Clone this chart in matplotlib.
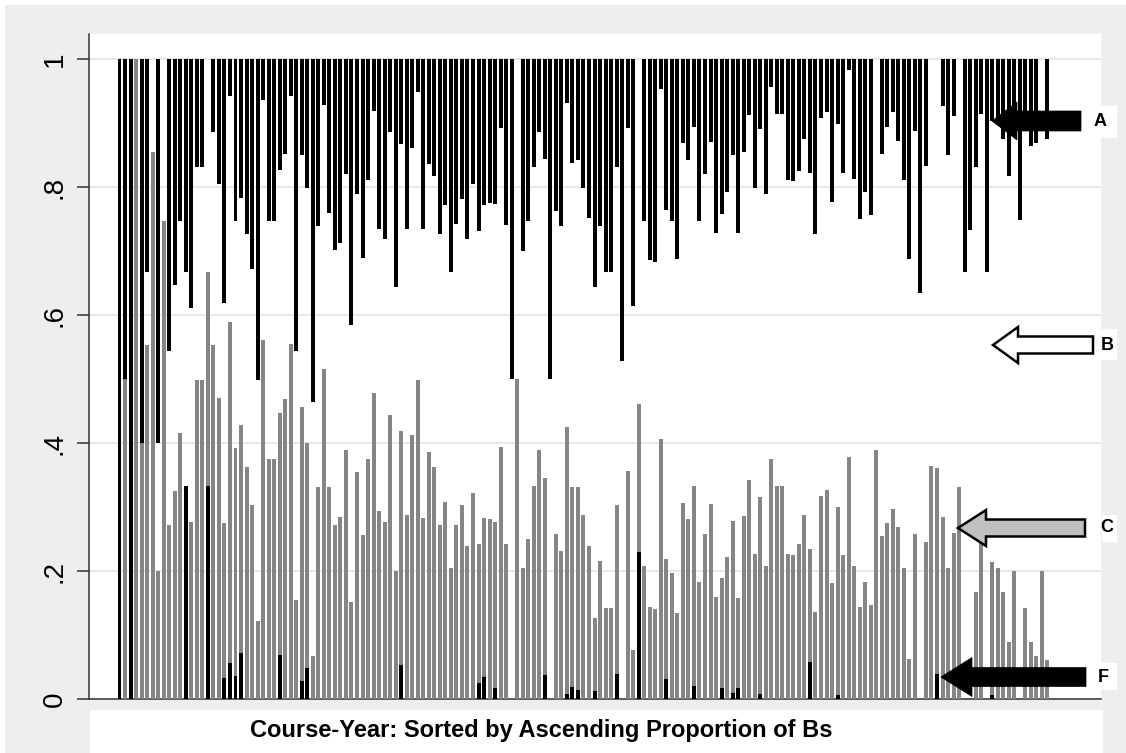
import matplotlib
matplotlib.use("Agg")
import matplotlib.pyplot as plt
from matplotlib.patches import Rectangle, Polygon

plt.rcParams['font.family'] = ['Liberation Sans', 'DejaVu Sans']

# Per course-year (sorted by ascending proportion of Bs), boundaries:
# top of the black F segment, top of the grey (C) segment, bottom of the black A segment
f_top = [0, 0, 0, 0, 0, 0, 0, 0, 0, 0, 0, 0, .333, 0, 0, 0, .333, 0, 0, .033,
         .057, .037, .072, 0, 0, 0, 0, 0, 0, .069, 0, 0, 0, .029, .049, 0, 0, 0, 0, 0,
         0, 0, 0, 0, 0, 0, 0, 0, 0, 0, 0, .053, 0, 0, 0, 0, 0, 0, 0, 0,
         0, 0, 0, 0, 0, .025, .035, 0, .017, 0, 0, 0, 0, 0, 0, 0, 0, .038, 0, 0,
         0, .008, .019, .015, 0, 0, .013, 0, 0, 0, .04, 0, 0, 0, .23, 0, 0, 0, 0, .031,
         0, 0, 0, 0, .021, 0, 0, 0, 0, .017, 0, .01, .017, 0, 0, 0, .008, 0, 0, 0,
         0, 0, 0, 0, 0, .059, 0, 0, 0, 0, .007, 0, 0, 0, 0, 0, 0, 0, 0, 0,
         0, 0, 0, 0, 0, 0, 0, 0, .04, 0, 0, 0, 0, 0, 0, 0, 0, 0, .006, 0,
         0, 0, 0, 0, 0, 0, 0, 0, 0]
c_top = [0, .5, 0, 1, .4, .553, .855, .2, .747, .272, .325, .416, .333, .277, .499, .499, .667, .553, .471, .275,
         .59, .392, .428, .363, .303, .123, .561, .375, .375, .448, .469, .555, .155, .457, .4, .067, .332, .516, .332, .273,
         .285, .39, .152, .355, .257, .375, .479, .295, .277, .444, .2, .42, .288, .413, .499, .284, .387, .363, .273, .309,
         .205, .272, .304, .24, .322, .243, .283, .281, .277, .394, .242, 0, .5, .205, .251, .333, .389, .346, 0, .258,
         .232, .425, .331, .332, .288, .239, .127, .216, .142, .142, .303, 0, .357, .077, .461, .209, .145, .141, .407, .219,
         .198, .135, .307, .281, .333, .184, .258, .305, .16, .189, .222, .279, .158, .286, .343, .227, .316, .209, .375, .333,
         .333, .227, .225, .242, .288, .235, .137, .317, .327, .182, .301, .225, .379, .209, .145, .183, .147, .389, .255, .275,
         .298, .269, .205, .063, .259, 0, .246, .365, .361, .285, .205, .26, .332, 0, 0, .167, .25, 0, .215, .205,
         .167, .09, .2, 0, .142, .09, .067, .2, .062]
a_bottom = [0, .5, 0, 1, .4, .667, 1, .4, 1, .545, .647, .748, .667, .612, .832, .832, 1, .887, .805, .619,
            .943, .748, .783, .727, .673, .499, .937, .748, .748, .827, .852, .943, .545, .851, .799, .465, .739, .929, .76, .702,
            .713, .821, .585, .79, .69, .811, .919, .735, .72, .887, .644, .867, .735, .861, .949, .735, .837, .817, .727, .773,
            .667, .742, .781, .719, .805, .732, .772, .775, .774, .892, .741, .5, 1, .7, .748, .832, .887, .845, .5, .763,
            .739, .932, .838, .843, .799, .752, .645, .739, .667, .667, .832, .529, .892, .614, 1, .748, .687, .683, .953, .764,
            .747, .688, .869, .842, .894, .747, .821, .871, .729, .758, .792, .85, .729, .855, .913, .799, .891, .789, .957, .915,
            .915, .811, .81, .826, .876, .822, .727, .908, .917, .777, .899, .823, .983, .813, .75, .793, .756, 1, .852, .895,
            .917, .873, .811, .688, .888, .635, .834, 1, 1, .927, .85, .911, 1, .667, .733, .832, .915, .667, .903, .9,
            .875, .817, .9, .749, .9, .865, .869, 1, .875]

y_ticks = [0, .2, .4, .6, .8, 1]
y_labels = ['0', '.2', '.4', '.6', '.8', '1']
x_title = 'Course-Year: Sorted by Ascending Proportion of Bs'
arrow_labels = ['A', 'B', 'C', 'F']

W, H = 1126, 753
fig = plt.figure(figsize=(W / 100, H / 100), dpi=100)
fig.patch.set_facecolor('white')


def fp(px, py):
    return (px / W, 1 - py / H)


fig.patches.append(Rectangle(fp(5, 753), (W - 5) / W, (753 - 5) / H, transform=fig.transFigure,
                             facecolor='#eeeeee', edgecolor='none', zorder=-10))
fig.patches.append(Rectangle(fp(90, 753), (1103 - 90) / W, (753 - 710) / H, transform=fig.transFigure,
                             facecolor='white', edgecolor='none', zorder=-9))

ax = fig.add_axes([89 / W, (H - 699.3) / H, (1101 - 89) / W, (699.3 - 34) / H])
ax.set_facecolor('white')

n = len(c_top)
x = list(range(1, n + 1))
bw = 0.72
gray = '#858585'
f_h = f_top
c_h = [c - f for c, f in zip(c_top, f_top)]
a_h = [1 - a for a in a_bottom]
ax.bar(x, f_h, width=bw, bottom=0, color='black', linewidth=0, zorder=3)
ax.bar(x, c_h, width=bw, bottom=f_top, color=gray, linewidth=0, zorder=3)
ax.bar(x, a_h, width=bw, bottom=a_bottom, color='black', linewidth=0, zorder=3)

ax.set_xlim(-4.52, 178.69)
ax.set_ylim(0, (699.3 - 34) / 640)
ax.set_yticks(y_ticks)
ax.set_yticklabels(y_labels, rotation=90, va='center', fontsize=20)
ax.set_xticks([])
ax.yaxis.grid(True, color='#e2e2e2', linewidth=1.1, zorder=0)
ax.set_axisbelow(True)
ax.tick_params(axis='y', length=8.5, width=1.1, color='#333333', pad=7)
for s in ['top', 'right']:
    ax.spines[s].set_visible(False)
for s in ['left', 'bottom']:
    ax.spines[s].set_color('#333333')
    ax.spines[s].set_linewidth(1.1)

fig.text(541 / W, 1 - 731 / H, x_title, ha='center', va='center', fontsize=17, fontweight='bold')


def arrow(tx, ty, hx, h, s, ex, fc, lw):
    pts = [(tx, ty), (hx, ty - h), (hx, ty - s), (ex, ty - s), (ex, ty + s), (hx, ty + s), (hx, ty + h)]
    poly = Polygon([fp(px, py) for px, py in pts], closed=True, transform=fig.transFigure,
                   facecolor=fc, edgecolor='black', linewidth=lw, joinstyle='miter', zorder=10, clip_on=False)
    ax.add_patch(poly)


arrow(992, 121, 1017, 19, 10, 1081, 'black', 0.5)
arrow(993, 345, 1018, 18, 8.5, 1093, 'white', 1.8)
arrow(958, 528, 986, 18, 8.5, 1085, '#c0c0c0', 1.8)
arrow(941, 677, 972, 19.5, 9.5, 1086, 'black', 0.5)

label_pos = [(1100, 122, 1100, 106, 1117, 138),
             (1107, 346, 1101, 329, 1117, 360),
             (1107, 528, 1102, 515, 1117, 542),
             (1103.5, 678, 1096, 663, 1117, 690)]
for lab, (lx, ly, x0, y0, x1, y1) in zip(arrow_labels, label_pos):
    fig.patches.append(Rectangle(fp(x0, y1), (x1 - x0) / W, (y1 - y0) / H, transform=fig.transFigure,
                                 facecolor='white', edgecolor='none', zorder=11))
    fig.text(lx / W, 1 - ly / H, lab, ha='center', va='center', fontsize=13, fontweight='bold', zorder=12)

fig.savefig('out.png', dpi=100)
